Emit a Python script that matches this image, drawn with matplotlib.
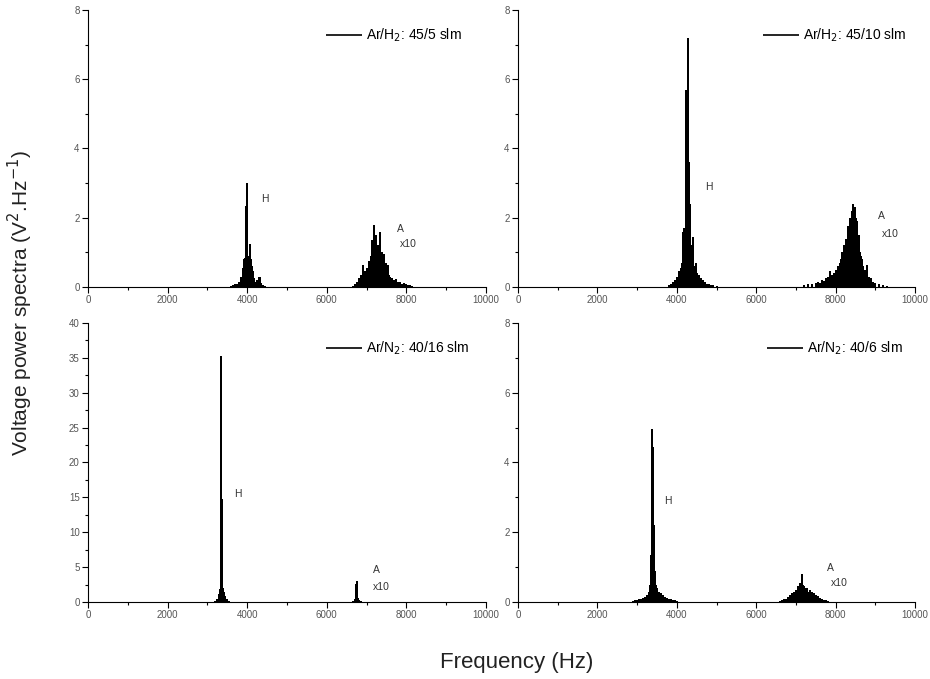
import matplotlib.pyplot as plt
from matplotlib.ticker import MultipleLocator

plt.rcParams['font.family'] = ['Liberation Sans', 'DejaVu Sans']

# ---- Ar/H2 45/5 slm ----
h1_freq = [3600, 3650, 3700, 3750, 3800, 3850, 3900, 3925, 3950, 3975, 4000, 4025, 4050,
           4075, 4100, 4125, 4150, 4175, 4200, 4250, 4300, 4325, 4350, 4400, 4450]
h1_val = [0.02, 0.05, 0.08, 0.1, 0.15, 0.3, 0.55, 0.8, 0.85, 2.35, 3.0, 0.9, 0.75,
          1.25, 0.8, 0.6, 0.45, 0.25, 0.15, 0.2, 0.28, 0.3, 0.12, 0.05, 0.03]
a1_freq = [6650, 6700, 6750, 6800, 6850, 6900, 6925, 6950, 6975, 7000, 7025, 7050, 7075,
           7100, 7125, 7150, 7175, 7200, 7225, 7250, 7275, 7300, 7325, 7350, 7375, 7400,
           7425, 7450, 7475, 7500, 7525, 7550, 7575, 7600, 7650, 7700, 7750, 7800, 7850,
           7900, 7950, 8000, 8050, 8100, 8150]
a1_val = [0.03, 0.08, 0.15, 0.25, 0.35, 0.65, 0.3, 0.45, 0.35, 0.55, 0.4, 0.75, 0.6,
          0.9, 1.35, 0.8, 1.8, 1.1, 1.5, 0.9, 1.2, 0.7, 1.6, 0.8, 1.0, 0.6,
          0.95, 0.5, 0.7, 0.4, 0.45, 0.65, 0.35, 0.3, 0.25, 0.2, 0.22, 0.15, 0.15,
          0.1, 0.12, 0.08, 0.06, 0.05, 0.03]

# ---- Ar/H2 45/10 slm ----
h2_freq = [3800, 3850, 3900, 3950, 4000, 4050, 4100, 4125, 4150, 4175, 4200, 4225, 4250,
           4275, 4300, 4325, 4350, 4375, 4400, 4425, 4450, 4475, 4500, 4550, 4600, 4650,
           4700, 4750, 4800, 4850, 4900, 5000]
h2_val = [0.05, 0.1, 0.15, 0.2, 0.3, 0.45, 0.55, 0.7, 1.6, 1.7, 1.65, 5.7, 5.6,
          7.2, 3.6, 2.4, 1.2, 0.8, 1.45, 0.6, 0.5, 0.7, 0.4, 0.35, 0.25, 0.2,
          0.15, 0.1, 0.08, 0.06, 0.05, 0.03]
a2_freq = [7200, 7300, 7400, 7500, 7550, 7600, 7650, 7700, 7750, 7800, 7850, 7900, 7950,
           8000, 8050, 8100, 8125, 8150, 8175, 8200, 8225, 8250, 8275, 8300, 8325, 8350,
           8375, 8400, 8425, 8450, 8475, 8500, 8525, 8550, 8575, 8600, 8625, 8650, 8700,
           8750, 8800, 8850, 8900, 8950, 9000, 9100, 9200, 9300]
a2_val = [0.05, 0.08, 0.1, 0.12, 0.15, 0.12, 0.2, 0.18, 0.25, 0.3, 0.45, 0.35, 0.4,
          0.5, 0.6, 0.7, 0.8, 1.0, 0.9, 1.2, 1.1, 1.4, 1.3, 1.75, 1.6, 2.0,
          1.8, 2.2, 2.4, 1.7, 2.3, 2.0, 1.9, 1.3, 1.5, 1.0, 0.9, 0.8, 0.6,
          0.5, 0.65, 0.3, 0.25, 0.15, 0.12, 0.08, 0.05, 0.03]

# ---- Ar/N2 40/16 slm ----
h3_freq = [3200, 3250, 3300, 3325, 3350, 3362, 3375, 3400, 3425, 3450, 3500, 3550]
h3_val = [0.2, 0.5, 1.2, 1.8, 35.2, 13.7, 14.8, 2.0, 1.5, 0.8, 0.4, 0.15]
a3_freq = [6650, 6700, 6725, 6750, 6775, 6800, 6850]
a3_val = [0.2, 0.5, 2.6, 3.0, 0.6, 0.3, 0.1]

# ---- Ar/N2 40/6 slm ----
h4_freq = [2900, 2950, 3000, 3050, 3100, 3150, 3200, 3250, 3300, 3325, 3350, 3375, 3400,
           3425, 3450, 3475, 3500, 3525, 3550, 3600, 3650, 3700, 3750, 3800, 3850, 3900,
           3950, 4000]
h4_val = [0.03, 0.05, 0.06, 0.08, 0.1, 0.12, 0.15, 0.2, 0.3, 0.5, 1.35, 4.95, 4.45,
          2.2, 0.9, 0.5, 0.4, 0.3, 0.3, 0.25, 0.2, 0.15, 0.12, 0.1, 0.08, 0.06,
          0.05, 0.03]
a4_freq = [6600, 6650, 6700, 6750, 6800, 6850, 6900, 6950, 7000, 7050, 7075, 7100, 7125,
           7150, 7175, 7200, 7225, 7250, 7275, 7300, 7350, 7400, 7450, 7500, 7550, 7600,
           7650, 7700, 7750, 7800]
a4_val = [0.03, 0.05, 0.08, 0.1, 0.15, 0.2, 0.25, 0.3, 0.35, 0.45, 0.4, 0.55, 0.5,
          0.8, 0.5, 0.45, 0.4, 0.35, 0.4, 0.3, 0.35, 0.3, 0.25, 0.2, 0.18, 0.12,
          0.1, 0.07, 0.05, 0.03]

labels = ["Ar/H$_2$: 45/5 slm", "Ar/H$_2$: 45/10 slm",
          "Ar/N$_2$: 40/16 slm", "Ar/N$_2$: 40/6 slm"]
ymax = [8, 8, 40, 8]
ymajor = [2, 2, 5, 2]
# (H label freq, value), (A label freq, value), (x10 label freq, value)
h_pos = [(4350, 2.45), (4720, 2.8), (3680, 15.0), (3690, 2.8)]
a_pos = [(7770, 1.6), (9060, 1.95), (7150, 4.1), (7780, 0.9)]
x10_pos = [(7840, 1.15), (9160, 1.45), (7170, 1.7), (7880, 0.47)]

panels = [(h1_freq + a1_freq, h1_val + a1_val),
          (h2_freq + a2_freq, h2_val + a2_val),
          (h3_freq + a3_freq, h3_val + a3_val),
          (h4_freq + a4_freq, h4_val + a4_val)]

fig = plt.figure(figsize=(9.3, 6.79), dpi=100)
rects = [[0.0946, 0.5773, 0.428, 0.408],
         [0.557, 0.5773, 0.427, 0.408],
         [0.0946, 0.1134, 0.428, 0.411],
         [0.557, 0.1134, 0.427, 0.411]]
legend_anchor = [(0.97, 0.985), (1.01, 0.985), (0.99, 0.985), (1.0, 0.985)]

tick_col = '#555555'
for i, rect in enumerate(rects):
    ax = fig.add_axes(rect)
    freq, val = panels[i]
    ax.vlines(freq, 0, val, color='black', lw=1.2, antialiased=False, label=labels[i])
    ax.set_xlim(0, 10000)
    ax.set_ylim(0, ymax[i])
    ax.spines['top'].set_visible(False)
    ax.spines['right'].set_visible(False)
    ax.xaxis.set_major_locator(MultipleLocator(2000))
    ax.xaxis.set_minor_locator(MultipleLocator(1000))
    ax.yaxis.set_major_locator(MultipleLocator(ymajor[i]))
    ax.yaxis.set_minor_locator(MultipleLocator(ymajor[i] / 2))
    ax.tick_params(which='major', direction='out', length=4, width=0.8,
                   labelsize=7, labelcolor=tick_col, pad=2)
    ax.tick_params(which='minor', direction='out', length=2, width=0.8)

    ax.text(h_pos[i][0], h_pos[i][1], "H", fontsize=7.5, color='#333333')
    ax.text(a_pos[i][0], a_pos[i][1], "A", fontsize=7.5, color='#333333')
    ax.text(x10_pos[i][0], x10_pos[i][1], "x10", fontsize=7.5, color='#333333')

    ax.legend(loc='upper right', bbox_to_anchor=legend_anchor[i], frameon=False,
              fontsize=10, handlelength=2.6, handletextpad=0.3)

fig.text(0.556, 0.025, "Frequency (Hz)", fontsize=16, ha='center', va='center', color='#222222')
fig.text(0.022, 0.554, "Voltage power spectra (V$^2$.Hz$^{-1}$)", fontsize=15,
         rotation=90, ha='center', va='center', color='#222222')

plt.savefig("out.png", dpi=100)
